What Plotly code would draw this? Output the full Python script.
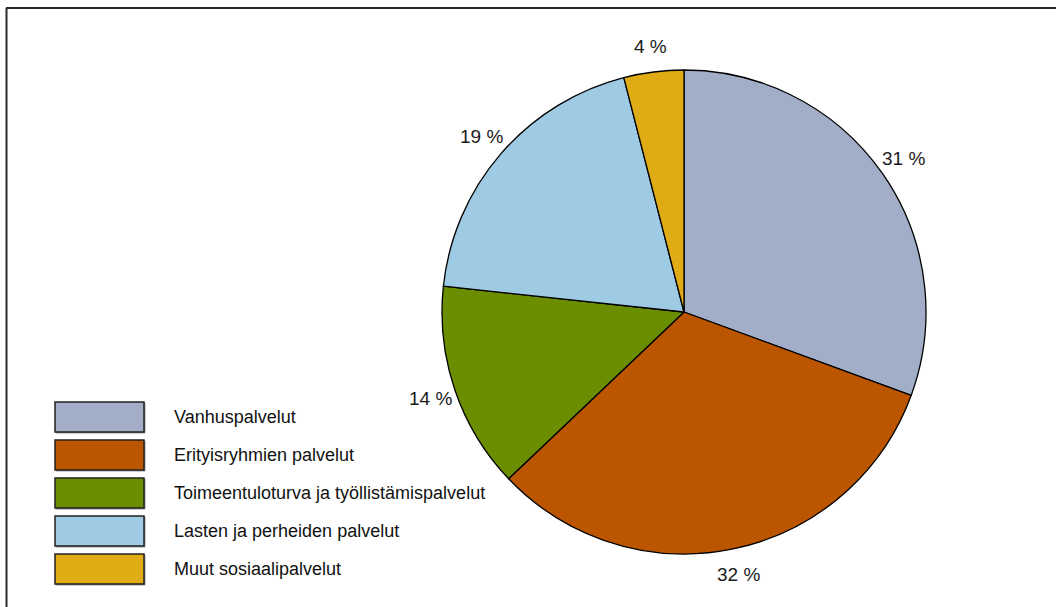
import math
import plotly.graph_objects as go

labels = ["Vanhuspalvelut", "Erityisryhmien palvelut", "Toimeentuloturva ja työllistämispalvelut",
          "Lasten ja perheiden palvelut", "Muut sosiaalipalvelut"]
values = [30.6, 32.3, 13.8, 19.3, 4.0]
colors = ["#A2AEC8", "#BB5500", "#6A8E00", "#9ECAE3", "#E0AC15"]

W, H = 1056, 607
FONT = "Liberation Sans, Arial, sans-serif"

cx, cy, r = 684, 312, 242
label_r = 268

fig = go.Figure(go.Pie(
    labels=labels, values=values, sort=False, direction="clockwise", rotation=0,
    marker=dict(colors=colors, line=dict(color="#000000", width=1.3)),
    textinfo="none",
    showlegend=False, hoverinfo="label+percent",
    domain=dict(x=[(cx - r) / W, (cx + r) / W], y=[1 - (cy + r) / H, 1 - (cy - r) / H]),
))


def px(x):
    return x / W


def py(y):
    return 1 - y / H


shapes = []
annotations = []

# percentage labels placed along each slice's mid-angle, outside the pie
total = sum(values)
cum = 0.0
for v in values:
    mid = (cum + v / 2) / total * 2 * math.pi
    cum += v
    lx = cx + label_r * math.sin(mid)
    ly = cy - label_r * math.cos(mid)
    annotations.append(dict(xref="paper", yref="paper", x=px(lx), y=py(ly),
                            text=f"{v:.0f} %", showarrow=False, xanchor="center", yanchor="middle",
                            font=dict(family=FONT, size=19, color="#1a1a1a")))

# frame (top and left edges visible)
shapes.append(dict(type="line", xref="paper", yref="paper", x0=px(6), x1=px(W + 5), y0=py(8), y1=py(8),
                   line=dict(color="#2a2a2a", width=2)))
shapes.append(dict(type="line", xref="paper", yref="paper", x0=px(6.5), x1=px(6.5), y0=py(8), y1=py(H + 5),
                   line=dict(color="#2a2a2a", width=2)))

# legend drawn as boxes + labels
bx0, bx1 = 55, 144
top0, bh, pitch = 402, 30, 38
for i, (lab, col) in enumerate(zip(labels, colors)):
    y0 = top0 + i * pitch
    shapes.append(dict(type="rect", xref="paper", yref="paper", x0=px(bx0 + 1), x1=px(bx1 + 1),
                       y0=py(y0 + bh + 1), y1=py(y0 + 1), line=dict(color="#9a9a9a", width=1),
                       fillcolor="#9a9a9a"))
    shapes.append(dict(type="rect", xref="paper", yref="paper", x0=px(bx0), x1=px(bx1),
                       y0=py(y0 + bh), y1=py(y0), line=dict(color="#222222", width=1.5), fillcolor=col))
    annotations.append(dict(xref="paper", yref="paper", x=px(172), y=py(y0 + bh / 2), text=lab,
                            showarrow=False, xanchor="left", yanchor="middle",
                            font=dict(family=FONT, size=18, color="#111111")))

fig.update_layout(
    width=W, height=H, margin=dict(l=0, r=0, t=0, b=0),
    paper_bgcolor="white", plot_bgcolor="white",
    shapes=shapes, annotations=annotations,
)
fig.write_html("out.html", config={"displayModeBar": False},
               post_script="document.body.style.margin='0';")
